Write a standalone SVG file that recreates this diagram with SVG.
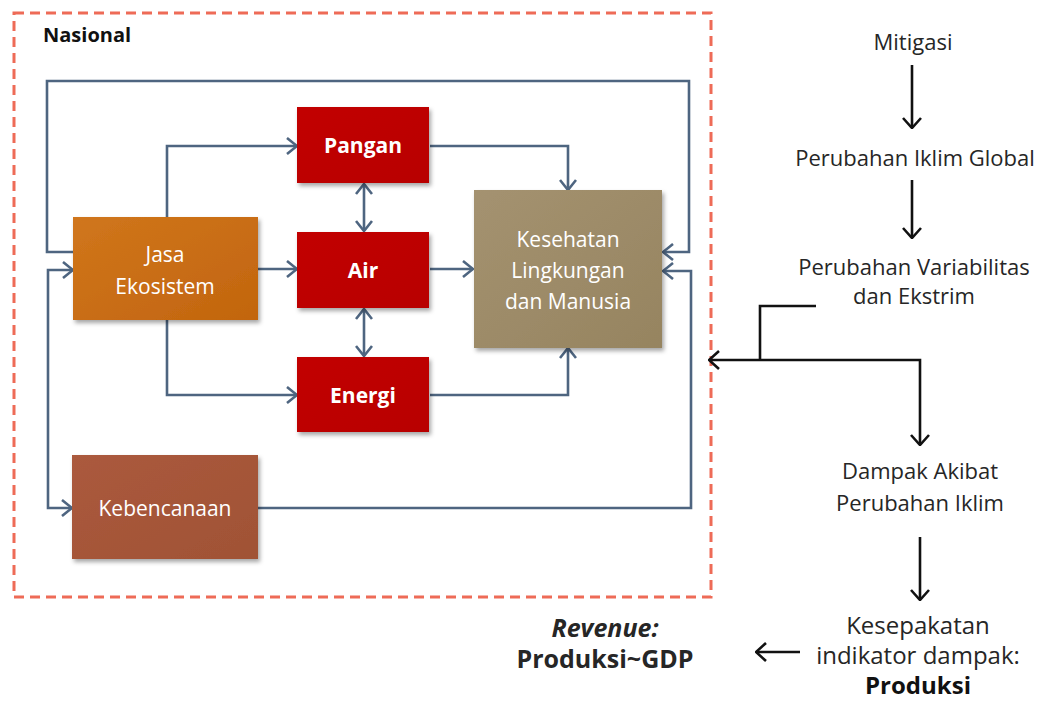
<svg xmlns="http://www.w3.org/2000/svg" width="1041" height="702" viewBox="0 0 1041 702">
<style>
  .conn { fill: none; stroke: #4e6580; stroke-width: 2.6; stroke-linejoin: miter; }
  .blk { fill: none; stroke: #111; stroke-width: 2.6; }
  .box { filter: url(#shadow); }
  .wt { font-family: "Open Sans", "Noto Sans", sans-serif; fill: #ffffff; text-anchor: middle; }
  .lbl { font-family: "Open Sans", "Noto Sans", sans-serif; fill: #262626; text-anchor: middle; }
</style>
<defs>
  <marker id="arr" viewBox="0 0 12 18" refX="11" refY="9" markerWidth="12" markerHeight="18" markerUnits="userSpaceOnUse" orient="auto-start-reverse">
    <path d="M1,1 L11,9 L1,17" fill="none" stroke="#4e6580" stroke-width="2.6"/>
  </marker>
  <marker id="barr" viewBox="0 0 12 20" refX="11" refY="10" markerWidth="12" markerHeight="20" markerUnits="userSpaceOnUse" orient="auto-start-reverse">
    <path d="M1,1 L11,10 L1,19" fill="none" stroke="#111" stroke-width="2.6"/>
  </marker>
  <filter id="shadow" x="-10%" y="-10%" width="125%" height="125%">
    <feDropShadow dx="2" dy="3" stdDeviation="2" flood-color="#000" flood-opacity="0.35"/>
  </filter>
  <linearGradient id="gOrange" x1="0" y1="0" x2="1" y2="1">
    <stop offset="0" stop-color="#d0761c"/><stop offset="1" stop-color="#c2650e"/>
  </linearGradient>
  <linearGradient id="gRed" x1="0" y1="0" x2="1" y2="1">
    <stop offset="0" stop-color="#c20000"/><stop offset="1" stop-color="#b80000"/>
  </linearGradient>
  <linearGradient id="gKhaki" x1="0" y1="0" x2="1" y2="1">
    <stop offset="0" stop-color="#a49270"/><stop offset="1" stop-color="#968460"/>
  </linearGradient>
  <linearGradient id="gBrown" x1="0" y1="0" x2="1" y2="1">
    <stop offset="0" stop-color="#ab5a3d"/><stop offset="1" stop-color="#a05235"/>
  </linearGradient>
</defs>
<rect width="1041" height="702" fill="#ffffff"/>

<g id="nasional">
  <rect x="14" y="13" width="697" height="584" fill="none" stroke="#ee6b57" stroke-width="3" stroke-dasharray="10 6"/>
  <text x="43" y="42" font-family="Open Sans, sans-serif" font-weight="bold" font-size="20" fill="#111">Nasional</text>
</g>

<g id="connectors">
  <path class="conn" d="M167,217 V146 H297" marker-end="url(#arr)"/>
  <path class="conn" d="M258,269 H297" marker-end="url(#arr)"/>
  <path class="conn" d="M167,320 V395 H297" marker-end="url(#arr)"/>
  <path class="conn" d="M430,146 H568 V190" marker-end="url(#arr)"/>
  <path class="conn" d="M430,269 H473" marker-end="url(#arr)"/>
  <path class="conn" d="M430,395 H568 V348" marker-end="url(#arr)"/>
  <path class="conn" d="M364,184 V231" marker-start="url(#arr)" marker-end="url(#arr)"/>
  <path class="conn" d="M364,309 V356" marker-start="url(#arr)" marker-end="url(#arr)"/>
  <path class="conn" d="M73,252 H47 V81 H689 V252 H663" marker-end="url(#arr)"/>
  <path class="conn" d="M73,270 H48 V508 H72" marker-start="url(#arr)" marker-end="url(#arr)"/>
  <path class="conn" d="M258,508 H691 V271 H663" marker-end="url(#arr)"/>
  <path class="blk" d="M912,65 V128" marker-end="url(#barr)"/>
  <path class="blk" d="M912,180 V238" marker-end="url(#barr)"/>
  <path class="blk" d="M816,306 H760 V360"/>
  <path class="blk" d="M709,360 H920 V445" marker-start="url(#barr)" marker-end="url(#barr)"/>
  <path class="blk" d="M920,537 V600" marker-end="url(#barr)"/>
  <path class="blk" d="M800,652 H756" marker-end="url(#barr)"/>
</g>

<g id="pangan">
  <rect class="box" x="297" y="107" width="132" height="76" fill="url(#gRed)"/>
  <text class="wt" x="363" y="153" font-size="21" font-weight="bold">Pangan</text>
</g>
<g id="air">
  <rect class="box" x="297" y="232" width="132" height="76" fill="url(#gRed)"/>
  <text class="wt" x="363" y="278" font-size="21" font-weight="bold">Air</text>
</g>
<g id="energi">
  <rect class="box" x="297" y="357" width="132" height="75" fill="url(#gRed)"/>
  <text class="wt" x="363" y="403" font-size="21" font-weight="bold">Energi</text>
</g>
<g id="jasa-ekosistem">
  <rect class="box" x="73" y="217" width="185" height="103" fill="url(#gOrange)"/>
  <text class="wt" font-size="21"><tspan x="165" y="262">Jasa</tspan><tspan x="165" y="294">Ekosistem</tspan></text>
</g>
<g id="kesehatan">
  <rect class="box" x="474" y="190" width="188" height="158" fill="url(#gKhaki)"/>
  <text class="wt" font-size="21" fill="#f4f0e8"><tspan x="568" y="247">Kesehatan</tspan><tspan x="568" y="278">Lingkungan</tspan><tspan x="568" y="309">dan Manusia</tspan></text>
</g>
<g id="kebencanaan">
  <rect class="box" x="72" y="455" width="186" height="104" fill="url(#gBrown)"/>
  <text class="wt" x="165" y="516" font-size="21">Kebencanaan</text>
</g>

<g id="mitigasi"><text class="lbl" x="913" y="50" font-size="22">Mitigasi</text></g>
<g id="iklim-global"><text class="lbl" x="915" y="166" font-size="22">Perubahan Iklim Global</text></g>
<g id="variabilitas"><text class="lbl" font-size="22"><tspan x="914" y="275">Perubahan Variabilitas</tspan><tspan x="914" y="304">dan Ekstrim</tspan></text></g>
<g id="dampak"><text class="lbl" font-size="22"><tspan x="920" y="479">Dampak Akibat</tspan><tspan x="920" y="511">Perubahan Iklim</tspan></text></g>
<g id="kesepakatan"><text class="lbl" font-size="24"><tspan x="918" y="634">Kesepakatan</tspan><tspan x="918" y="664">indikator dampak:</tspan><tspan x="918" y="694" font-weight="bold" fill="#111">Produksi</tspan></text></g>
<g id="revenue"><text class="lbl" font-size="25" font-weight="bold" fill="#111"><tspan x="605" y="637" font-style="italic">Revenue:</tspan><tspan x="605" y="668">Produksi~GDP</tspan></text></g>
</svg>
